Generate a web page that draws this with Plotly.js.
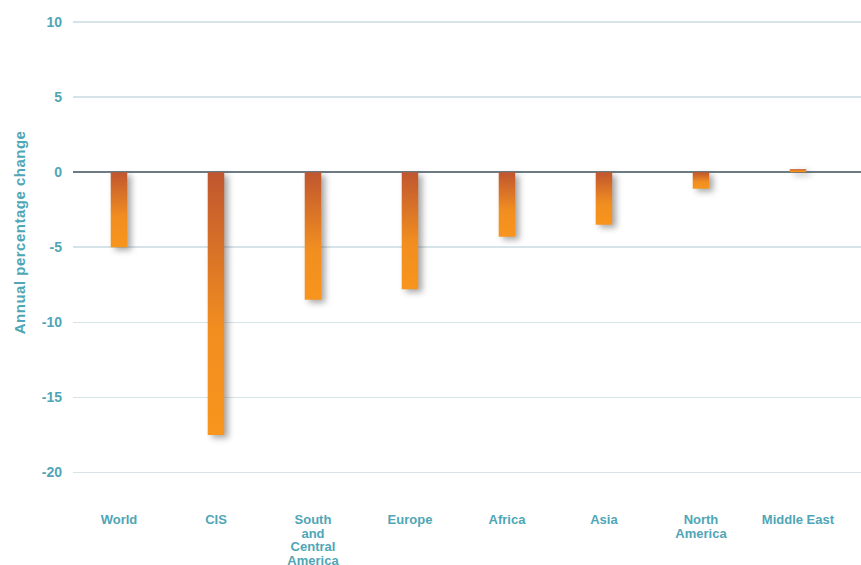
<!DOCTYPE html>
<html>
<head>
<meta charset="utf-8">
<script src="https://cdn.plot.ly/plotly-3.0.1.min.js"></script>
<style>
html,body{margin:0;padding:0;background:#fff;}
#chart{width:861px;height:565px;}
.barlayer .point path{filter:drop-shadow(4px 3px 3px rgba(60,60,60,0.45));}
</style>
</head>
<body>
<svg width="0" height="0" style="position:absolute">
  <defs>
    <linearGradient id="barGrad" x1="0" y1="0" x2="0" y2="1">
      <stop offset="0" stop-color="#c0562f"/>
      <stop offset="0.6" stop-color="#f18e20"/>
      <stop offset="1" stop-color="#f7951d"/>
    </linearGradient>
  </defs>
</svg>
<div id="chart"></div>
<script>
var categories = ["World", "CIS", "South<br>and<br>Central<br>America", "Europe", "Africa", "Asia", "North<br>America", "Middle East"];
var changes = [-5.0, -17.5, -8.5, -7.8, -4.3, -3.5, -1.1, 0.2];
var yTicks = [10, 5, 0, -5, -10, -15, -20];

var teal = "#4fa6b6";

var trace = {
  type: "bar",
  x: categories,
  y: changes,
  width: 0.17,
  marker: {color: "#f7941d", line: {width: 0}},
  hoverinfo: "x+y"
};

var layout = {
  width: 861,
  height: 565,
  margin: {l: 73, r: 0, t: 7, b: 55},
  paper_bgcolor: "#ffffff",
  plot_bgcolor: "#ffffff",
  showlegend: false,
  xaxis: {
    type: "category",
    range: [-0.474, 7.65],
    showgrid: false,
    showline: false,
    zeroline: false,
    ticks: "",
    ticklen: 0,
    tickangle: 0,
    tickfont: {family: "Liberation Sans, Arial, sans-serif", size: 13, color: teal, weight: "bold"}
  },
  yaxis: {
    range: [-22.5, 11],
    tickvals: yTicks,
    ticktext: yTicks.map(String),
    showgrid: true,
    gridcolor: "#d6e4e9",
    gridwidth: 1.5,
    zeroline: true,
    zerolinecolor: "#6c7b84",
    zerolinewidth: 2,
    showline: false,
    ticks: "",
    ticklabelstandoff: 10,
    tickfont: {family: "Liberation Sans, Arial, sans-serif", size: 14, color: teal, weight: "bold"}
  },
  annotations: [{
    text: "Annual percentage change",
    xref: "paper", yref: "paper",
    x: -0.068, y: 0.553,
    xanchor: "center", yanchor: "middle",
    textangle: -90,
    showarrow: false,
    font: {family: "Liberation Sans, Arial, sans-serif", size: 15, color: teal, weight: "bold"}
  }]
};

Plotly.newPlot("chart", [trace], layout, {displayModeBar: false, staticPlot: true}).then(function(){
  document.querySelectorAll(".barlayer .point path").forEach(function(p){
    p.style.fill = "url(#barGrad)";
  });
  document.querySelectorAll(".xtick text").forEach(function(txt){
    var lines = txt.querySelectorAll("tspan.line");
    lines.forEach(function(t, i){
      if (i > 0) t.setAttribute("dy", (i * 1.05).toFixed(2) + "em");
    });
  });
  document.querySelectorAll(".annotation-text").forEach(function(t){
    t.style.letterSpacing = "0.5px";
  });
});
</script>
</body>
</html>
